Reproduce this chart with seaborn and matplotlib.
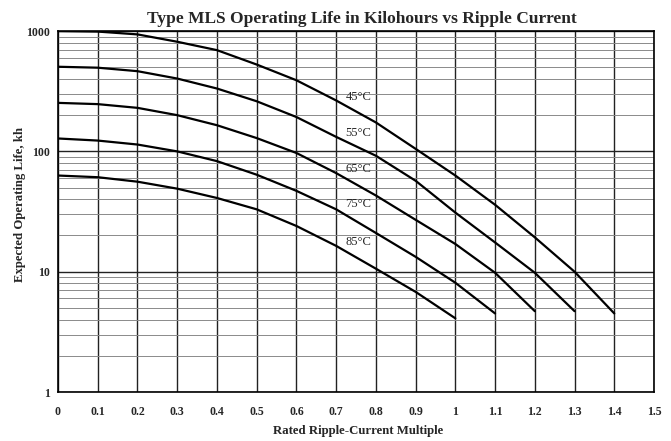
import matplotlib
matplotlib.use("Agg")
import matplotlib.pyplot as plt
import numpy as np
import pandas as pd
import seaborn as sns
from matplotlib.ticker import FixedLocator, LogLocator, NullFormatter

# Data (life in kh vs ripple-current multiple)
x_45 = [0.0, 0.1, 0.2, 0.3, 0.4, 0.5, 0.6, 0.7, 0.8, 0.9, 1.0, 1.1, 1.2, 1.3, 1.4]
life_45 = [1000, 990, 938, 815, 694, 527, 390, 265, 174, 105, 63, 36, 19.3, 10, 4.5]

x_55 = [0.0, 0.1, 0.2, 0.3, 0.4, 0.5, 0.6, 0.7, 0.8, 0.9, 1.0, 1.1, 1.2, 1.3]
life_55 = [505, 496, 464, 403, 333, 261, 193, 132, 92, 57, 31, 17.5, 9.8, 4.7]

x_65 = [0.0, 0.1, 0.2, 0.3, 0.4, 0.5, 0.6, 0.7, 0.8, 0.9, 1.0, 1.1, 1.2]
life_65 = [253, 247, 230, 200, 165, 129, 97, 66, 43, 27, 17, 9.8, 4.7]

x_75 = [0.0, 0.1, 0.2, 0.3, 0.4, 0.5, 0.6, 0.7, 0.8, 0.9, 1.0, 1.1]
life_75 = [128, 123, 114, 100, 83, 64, 47, 33, 21, 13.3, 8.1, 4.5]

x_85 = [0.0, 0.1, 0.2, 0.3, 0.4, 0.5, 0.6, 0.7, 0.8, 0.9, 1.0]
life_85 = [63, 61, 56, 49, 41, 33, 24, 16.4, 10.6, 6.8, 4.1]

temps = ["45°C", "55°C", "65°C", "75°C", "85°C"]
label_y = [282, 142, 71, 36.5, 17.6]
label_x = 0.756

x_ticks = [0, 0.1, 0.2, 0.3, 0.4, 0.5, 0.6, 0.7, 0.8, 0.9, 1, 1.1, 1.2, 1.3, 1.4, 1.5]
x_tick_labels = ["0", "0.1", "0.2", "0.3", "0.4", "0.5", "0.6", "0.7", "0.8", "0.9",
                 "1", "1.1", "1.2", "1.3", "1.4", "1.5"]
y_ticks = [1, 10, 100, 1000]
y_tick_labels = ["1", "10", "100", "1000"]

frames = []
for t, xs, ys in zip(temps, [x_45, x_55, x_65, x_75, x_85],
                     [life_45, life_55, life_65, life_75, life_85]):
    frames.append(pd.DataFrame({"multiple": xs, "life": ys, "temp": t}))
df = pd.concat(frames, ignore_index=True)

sns.set_style("white")
plt.rcParams['font.family'] = ['Liberation Serif', 'DejaVu Serif']

fig = plt.figure(figsize=(6.71, 4.41), dpi=100)
ax = fig.add_axes([0.0864, 0.111, 0.8883, 0.8186])

sns.lineplot(data=df, x="multiple", y="life", hue="temp", units="temp",
             estimator=None, palette=["black"] * 5, linewidth=1.6,
             legend=False, ax=ax, zorder=3)

ax.set_yscale("log")
ax.set_xlim(0, 1.5)
ax.set_ylim(1, 1000)

# grid: dark verticals every 0.1, dark decade lines, light minor lines
ax.xaxis.set_major_locator(FixedLocator(x_ticks))
ax.set_xticklabels(x_tick_labels, fontweight="bold", fontsize=8.5)
ax.yaxis.set_major_locator(FixedLocator(y_ticks))
ax.set_yticklabels(y_tick_labels, fontweight="bold", fontsize=8.5)
ax.yaxis.set_minor_locator(LogLocator(base=10, subs=np.arange(2, 10)))
ax.yaxis.set_minor_formatter(NullFormatter())
ax.grid(True, which="major", axis="both", color="#222222", linewidth=1.0)
ax.grid(True, which="minor", axis="y", color="#8a8a8a", linewidth=0.7)
ax.tick_params(axis="both", which="both", length=0)
ax.tick_params(axis="x", pad=10)
ax.tick_params(axis="y", pad=6)

for spine in ax.spines.values():
    spine.set_color("black")
    spine.set_linewidth(1.2)

for t, ly in zip(temps, label_y):
    ax.text(label_x, ly, t, fontsize=9, ha="center", va="center")

ax.set_title("Type MLS Operating Life in Kilohours vs Ripple Current",
             fontweight="bold", fontsize=12.5, x=0.51, pad=6)
ax.set_xlabel("Rated Ripple-Current Multiple", fontweight="bold", fontsize=9.2,
              va="center")
ax.xaxis.set_label_coords(0.503, -0.107)
ax.set_ylabel("Expected Operating Life, kh", fontweight="bold", fontsize=9.2,
              va="center")
ax.yaxis.set_label_coords(-0.064, 0.52)

fig.savefig("out.png", dpi=100)
